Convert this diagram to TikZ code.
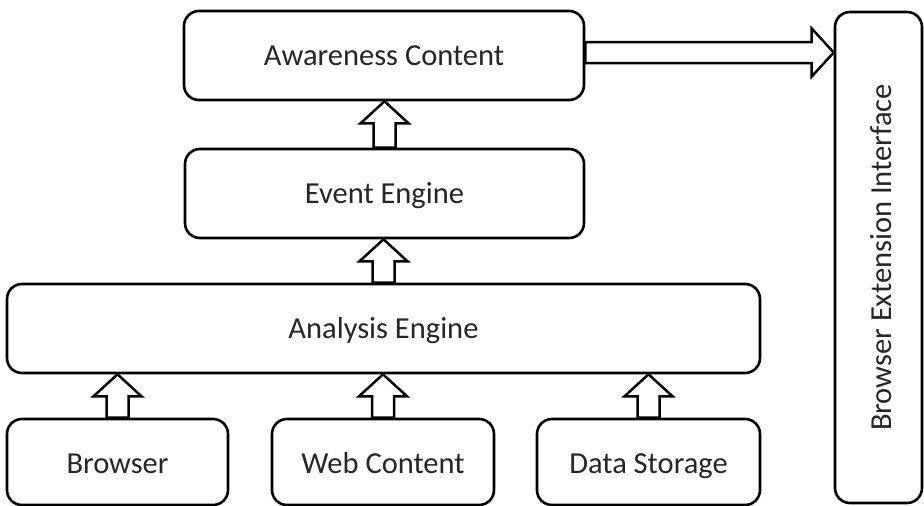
\documentclass[tikz,border=0pt]{standalone}
\usepackage{fontspec}
\setmainfont{Carlito}
\usetikzlibrary{calc}
\tikzset{
  box/.style={draw=black, line width=2.6pt, rounded corners=15pt, fill=white, inner sep=0pt},
  lbl/.style={font=\fontsize{30.5}{36}\selectfont, text=black!85, inner sep=0pt, anchor=base},
  blk/.style={draw=black, line width=2.5pt, fill=white, line join=miter}
}
\newcommand{\blockup}[2]{%
  \draw[blk] let \p1=(#1.north), \p2=(#2.south) in
    (\x1-11pt,\y1) -- (\x1-11pt,\y2-22pt) -- (\x1-24pt,\y2-22pt) -- (\x1,\y2)
    -- (\x1+24pt,\y2-22pt) -- (\x1+11pt,\y2-22pt) -- (\x1+11pt,\y1) -- cycle;}
\begin{document}
\begin{tikzpicture}[x=1pt,y=-1pt]
\useasboundingbox (0,0) rectangle (924,506);
% boxes
\node[box, minimum width=400pt, minimum height=89pt] (aware) at (384,55.5) {};
\node[box, minimum width=399pt, minimum height=89pt] (event) at (384.5,193.5) {};
\node[box, minimum width=753pt, minimum height=89pt] (analysis) at (383.5,328.5) {};
\node[box, minimum width=221pt, minimum height=86pt] (browser) at (117.5,462) {};
\node[box, minimum width=222pt, minimum height=86pt] (web) at (383,462) {};
\node[box, minimum width=223pt, minimum height=86pt] (data) at (648.5,462) {};
\node[box, minimum width=87pt, minimum height=491pt] (bei) at (878.5,257.5) {};
% labels
\node[lbl] (tAware) at (384,65) {Awareness Content};
\node[lbl] (tEvent) at (384.5,203) {Event Engine};
\node[lbl] (tAnalysis) at (383.5,338) {Analysis Engine};
\node[lbl] (tBrowser) at (117.5,473) {Browser};
\node[lbl] (tWeb) at (383,473) {Web Content};
\node[lbl] (tData) at (648.5,473) {Data Storage};
\node[lbl, rotate=90] (tBei) at (891,257.5) {Browser Extension Interface};
% block arrows
\blockup{event}{aware}
\blockup{analysis}{event}
\blockup{browser}{analysis}
\blockup{web}{analysis}
\blockup{data}{analysis}
\draw[blk] let \p1=(aware.east), \p2=(bei.west) in
  (\x1,\y1+13.5pt) -- (\x2-22pt,\y1+13.5pt) -- (\x2-22pt,\y1+27pt) -- (\x2,\y1+3pt)
  -- (\x2-22pt,\y1-21pt) -- (\x2-22pt,\y1-7.5pt) -- (\x1,\y1-7.5pt) -- cycle;
\end{tikzpicture}
\end{document}
